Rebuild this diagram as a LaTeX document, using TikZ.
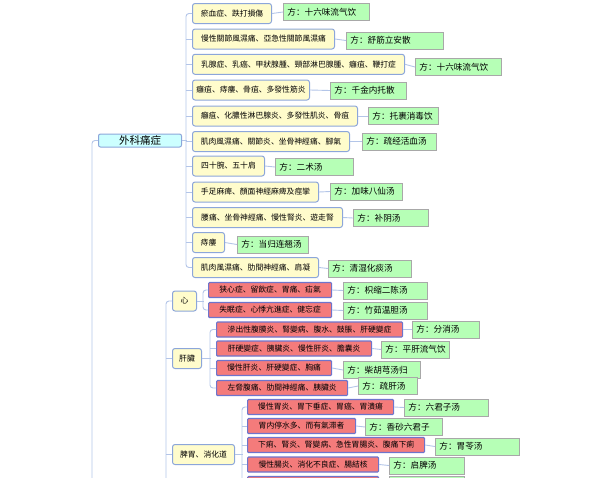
\documentclass[tikz,border=0pt]{standalone}
\usepackage{fontspec}
\newfontfamily\cjk{Noto Sans CJK SC}
\definecolor{linkc}{HTML}{B3C5E8}
\definecolor{yelfill}{HTML}{FFFCCC}
\definecolor{yelline}{HTML}{8CA6DA}
\definecolor{redfill}{HTML}{F47B7B}
\definecolor{redline}{HTML}{6E74CC}
\definecolor{recfill}{HTML}{B6FFB6}
\definecolor{recline}{HTML}{A8A8A8}
\definecolor{topfill}{HTML}{CCFFFF}

\begin{document}
\begin{tikzpicture}[x=1pt,y=-1pt,
  link/.style={draw=linkc,line width=0.9pt},
  yel/.style={draw=yelline,fill=yelfill,rounded corners=2.5pt,line width=1pt,minimum height=20pt,inner xsep=0pt,anchor=west,font=\cjk\fontsize{7.8}{9}\selectfont},
  red/.style={draw=redline,fill=redfill,rounded corners=1pt,line width=1.2pt,minimum height=15pt,inner sep=0pt,anchor=west,font=\cjk\fontsize{7.8}{9}\selectfont},
  recipe/.style={draw=recline,fill=recfill,line width=0.9pt,minimum height=17pt,inner xsep=4pt,inner ysep=0pt,align=left,anchor=west,font=\cjk\fontsize{8.6}{10}\selectfont},
  top/.style={draw=yelline,fill=topfill,rounded corners=2pt,line width=1pt,minimum height=13pt,inner sep=0pt,anchor=west,font=\cjk\fontsize{10.5}{12}\selectfont}]
\useasboundingbox (0,0) rectangle (594,477);
\clip (0,0) rectangle (594,477);

\node[top,minimum width=83pt] (wk) at (98,140.5) {外科痛症};
\node[yel,minimum width=24pt] (xin) at (172,301) {心};
\node[yel,minimum width=29pt] (gan) at (172,358.5) {肝臟};
\node[yel,minimum width=62pt] (pw) at (172,454.5) {脾胃、消化道};

\node[yel,minimum width=79pt] (y1) at (192,13.5) {瘀血症、跌打損傷};
\node[yel,minimum width=142pt] (y2) at (192,39) {慢性關節風濕痛、亞急性關節風濕痛};
\node[yel,minimum width=212pt] (y3) at (192,64.3) {乳腺症、乳癌、甲狀腺腫、頸部淋巴腺腫、癰疽、鞭打症};
\node[yel,minimum width=117pt] (y4) at (192,90) {癰疽、痔瘻、骨疽、多發性筋炎};
\node[yel,minimum width=165pt] (y5) at (192,116) {癰疽、化膿性淋巴腺炎、多發性肌炎、骨疽};
\node[yel,minimum width=157pt] (y6) at (192,141.5) {肌肉風濕痛、關節炎、坐骨神經痛、腳氣};
\node[yel,minimum width=72pt] (y7) at (192,166) {四十腕、五十肩};
\node[yel,minimum width=126pt] (y8) at (192,192) {手足麻痺、顏面神經麻痺及痙攣};
\node[yel,minimum width=150pt] (y9) at (192,217.5) {腰痛、坐骨神經痛、慢性腎炎、遊走腎};
\node[yel,minimum width=32pt] (y10) at (192,242.5) {痔瘻};
\node[yel,minimum width=126pt] (y11) at (192,267.5) {肌肉風濕痛、肋間神經痛、肩凝};

\node[recipe,text width=78pt] (r1) at (283,12) {方：十六味流气饮};
\node[recipe,text width=89pt] (r2) at (346,40.5) {方：舒筋立安散};
\node[recipe,text width=78pt] (r3) at (415,67) {方：十六味流气饮};
\node[recipe,text width=68pt] (r4) at (330,90.5) {方：千金内托散};
\node[recipe,text width=62pt] (r5) at (368,116) {方：托裹消毒饮};
\node[recipe,text width=66pt] (r6) at (362,141.5) {方：疏经活血汤};
\node[recipe,text width=70pt] (r7) at (275,167) {方：二术汤};
\node[recipe,text width=64pt] (r8) at (330,191.5) {方：加味八仙汤};
\node[recipe,text width=67pt] (r9) at (353,218) {方：补阴汤};
\node[recipe,text width=63pt] (r10) at (237,244.5) {方：当归连翘汤};
\node[recipe,text width=75pt] (r11) at (328,268.5) {方：清湿化痰汤};

\node[red,minimum width=123pt] (c1) at (208,290) {狭心症、留飲症、胃痛、疝氣};
\node[red,minimum width=123pt] (c2) at (208,310) {失眠症、心悸亢進症、健忘症};
\node[recipe,text width=76pt] (rc1) at (343,290.5) {方：枳缩二陈汤};
\node[recipe,text width=76pt] (rc2) at (343,310.5) {方：竹茹温胆汤};

\node[red,minimum width=186pt] (g1) at (216,329.5) {滲出性腹膜炎、腎變病、腹水、鼓脹、肝硬變症};
\node[red,minimum width=155pt] (g2) at (216,348.5) {肝硬變症、胰臟炎、慢性肝炎、膽囊炎};
\node[red,minimum width=115pt] (g3) at (216,368) {慢性肝炎、肝硬變症、胸痛};
\node[red,minimum width=131pt] (g4) at (216,388) {左脅腹痛、肋間神經痛、胰臟炎};
\node[recipe,text width=59pt] (rg1) at (412,329.5) {方：分消汤};
\node[recipe,text width=60pt] (rg2) at (381,349.5) {方：平肝流气饮};
\node[recipe,text width=69pt] (rg3) at (343,370) {方：柴胡芎汤归};
\node[recipe,text width=51pt] (rg4) at (358,386) {方：疏肝汤};

\node[red,minimum width=146pt] (p1) at (247,407) {慢性胃炎、胃下垂症、胃癌、胃潰瘍};
\node[red,minimum width=108pt] (p2) at (247,426) {胃内停水多、而有氣滞者};
\node[red,minimum width=177pt] (p3) at (247,445) {下痢、腎炎、腎變病、急性胃腸炎、腹痛下痢};
\node[red,minimum width=131pt] (p4) at (247,464.5) {慢性腸炎、消化不良症、腸結核};
\node[red,minimum width=131pt] (p5) at (247,484) {};
\node[recipe,text width=76pt] (rp1) at (404,407.5) {方：六君子汤};
\node[recipe,text width=69pt] (rp2) at (365,427) {方：香砂六君子};
\node[recipe,text width=76pt] (rp3) at (435,446.5) {方：胃苓汤};
\node[recipe,text width=67pt] (rp4) at (389,465.5) {方：启脾汤};
\node[recipe,text width=67pt] (rp5) at (389,485) {};

\coordinate (b0) at (92,480);
\coordinate (b1) at (166,480);

\draw[link,rounded corners=3pt] (wk.west) -| (b0);
\draw[link,rounded corners=3pt] (xin.west) -| (b1);
\draw[link] (gan.west) -- (gan.west -| b1);
\draw[link] (pw.west) -- (pw.west -| b1);

\draw[link] (wk.east) -- ++(5,0);
\draw[link,rounded corners=3pt] (y1.west) -- ++(-6,0) |- (y11.west);
\draw[link] (y2.west) -- ++(-6,0);
\draw[link] (y3.west) -- ++(-6,0);
\draw[link] (y4.west) -- ++(-6,0);
\draw[link] (y5.west) -- ++(-6,0);
\draw[link] (y6.west) -- ++(-6,0);
\draw[link] (y7.west) -- ++(-6,0);
\draw[link] (y8.west) -- ++(-6,0);
\draw[link] (y9.west) -- ++(-6,0);
\draw[link] (y10.west) -- ++(-6,0);

\draw[link] (y1.east) -- (r1.west);
\draw[link] (y2.east) -- (r2.west);
\draw[link] (y3.east) -- (r3.west);
\draw[link] (y4.east) -- (r4.west);
\draw[link] (y5.east) -- (r5.west);
\draw[link] (y6.east) -- (r6.west);
\draw[link] (y7.east) -- (r7.west);
\draw[link] (y8.east) -- (r8.west);
\draw[link] (y9.east) -- (r9.west);
\draw[link] (y10.east) -- (r10.west);
\draw[link] (y11.east) -- (r11.west);

\draw[link] (xin.east) -- ++(7,0);
\draw[link,rounded corners=3pt] (c1.west) -- ++(-5,0) |- (c2.west);
\draw[link] (c1.east) -- (rc1.west);
\draw[link] (c2.east) -- (rc2.west);

\draw[link] (gan.east) -- ++(9,0);
\draw[link,rounded corners=3pt] (g1.west) -- ++(-6,0) |- (g4.west);
\draw[link] (g2.west) -- ++(-6,0);
\draw[link] (g3.west) -- ++(-6,0);
\draw[link] (g1.east) -- (rg1.west);
\draw[link] (g2.east) -- (rg2.west);
\draw[link] (g3.east) -- (rg3.west);
\draw[link] (g4.east) -- (rg4.west);

\draw[link] (pw.east) -- ++(8,0);
\draw[link,rounded corners=3pt] (p1.west) -- ++(-5,0) |- (p5.west);
\draw[link] (p2.west) -- ++(-5,0);
\draw[link] (p3.west) -- ++(-5,0);
\draw[link] (p4.west) -- ++(-5,0);
\draw[link] (p1.east) -- (rp1.west);
\draw[link] (p2.east) -- (rp2.west);
\draw[link] (p3.east) -- (rp3.west);
\draw[link] (p4.east) -- (rp4.west);
\end{tikzpicture}
\end{document}
